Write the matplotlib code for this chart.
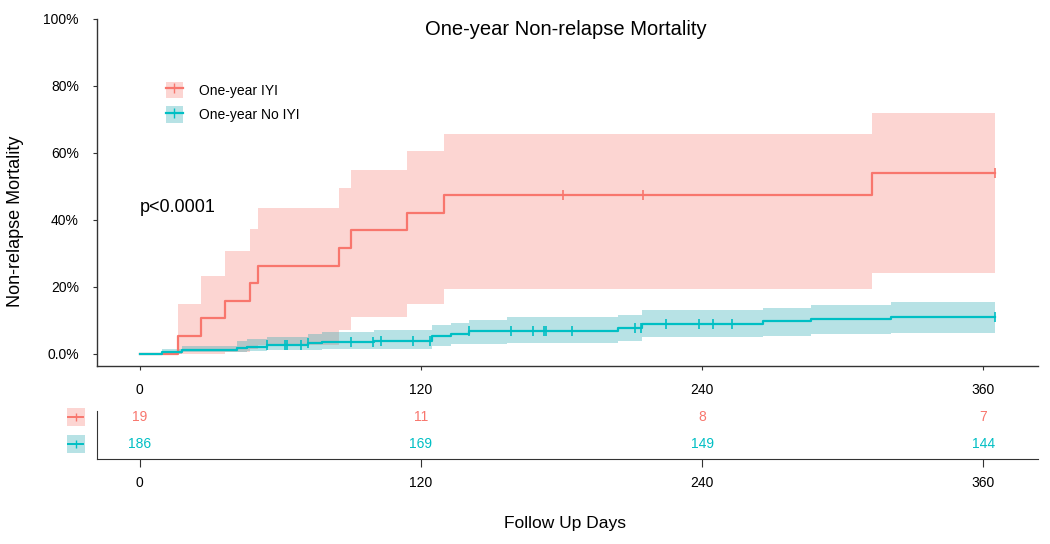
import numpy as np
import matplotlib
matplotlib.use("Agg")
import matplotlib.pyplot as plt
from matplotlib.patches import Patch
from matplotlib.lines import Line2D

plt.rcParams['font.family'] = ['Liberation Sans', 'DejaVu Sans']

# one-year IYI group (cumulative incidence, %)
iyi_days = [0, 16.4, 26.3, 36.2, 47.1, 50.3, 85.2, 90.0, 113.9, 129.8, 312.5]
iyi_val = [0, 5.3, 10.5, 15.8, 21.1, 26.3, 31.6, 36.8, 42.1, 47.4, 54.0]
iyi_lo = [0, 0, 0, 0.5, 1.5, 2.5, 7.0, 10.9, 14.9, 19.3, 24.0]
iyi_up = [0, 14.9, 23.1, 30.6, 37.3, 43.4, 49.4, 54.9, 60.4, 65.6, 71.8]
iyi_cens = [180.6, 214.7, 365]

# one-year no IYI group
no_days = [0, 9.5, 18, 41.5, 45.7, 54.3, 72, 77.7, 100, 124.5, 133, 140.6,
           156.7, 204, 214.4, 265.8, 286.6, 320.7]
no_val = [0, 0.54, 1.1, 1.6, 2.1, 2.7, 3.2, 3.5, 3.9, 5.3, 6.0, 6.8,
          6.9, 7.6, 8.9, 9.6, 10.3, 10.9]
no_lo = [0, 0, 0.4, 0.6, 0.9, 1.1, 1.2, 1.3, 1.3, 2.3, 2.8, 2.9,
         3.2, 3.9, 4.9, 5.3, 5.8, 6.1]
no_up = [0, 1.4, 2.3, 3.7, 4.5, 5.1, 5.8, 6.6, 7.1, 8.7, 9.2, 9.9,
         10.9, 11.6, 12.9, 13.7, 14.4, 15.3]
no_cens = [54.3, 62, 62.8, 69, 72, 90, 99.7, 102.9, 116.7, 123.8, 140.6,
           158.6, 167.8, 172.4, 173.5, 184.6, 211.5, 214, 224.6, 238.5,
           244.5, 252.6, 365]

end_day = 365
risk_times = [0, 120, 240, 360]
risk_iyi = [19, 11, 8, 7]
risk_no = [186, 169, 149, 144]
labels = ['One-year IYI', 'One-year No IYI']
red = '#F8766D'
teal = '#00BFC4'
red_fill = '#F8766D'
teal_fill = '#12A2AC'

fig = plt.figure(figsize=(10.5, 5.44), dpi=100)
ax = fig.add_axes([0.0924, 0.3272, 0.896, 0.638])


def draw(days, val, lo, up, fcol):
    d = np.append(days, end_day)
    v = np.append(val, val[-1])
    ax.fill_between(d, np.append(lo, lo[-1]), np.append(up, up[-1]),
                    step='post', color=fcol, alpha=0.3, lw=0)
    return d, v


d1, v1 = draw(iyi_days, iyi_val, iyi_lo, iyi_up, red_fill)
d2, v2 = draw(no_days, no_val, no_lo, no_up, teal_fill)
for d, v, cens, col in [(d1, v1, iyi_cens, red), (d2, v2, no_cens, teal)]:
    ax.step(d, v, where='post', color=col, lw=1.6)
    idx = np.searchsorted(d, cens, side='right') - 1
    ax.plot(cens, v[idx], ls='none', marker='|', ms=7, mew=1.2, color=col)

ax.set_xlim(-18.25, 383.25)
ax.set_ylim(-3.7, 100)
ax.set_xticks(risk_times)
ax.set_yticks([0, 20, 40, 60, 80, 100])
ax.set_yticklabels(['0.0%', '20%', '40%', '60%', '80%', '100%'])
for s in ['top', 'right']:
    ax.spines[s].set_visible(False)
for s in ['left', 'bottom']:
    ax.spines[s].set_color('#333333')
    ax.spines[s].set_linewidth(1.0)
ax.tick_params(axis='y', length=3, pad=10, labelsize=10, color='#333333')
ax.tick_params(axis='x', length=3, pad=9, labelsize=10, color='#333333')
ax.set_ylabel('Non-relapse Mortality', fontsize=13)
ax.yaxis.set_label_coords(-0.078, 0.418)
fig.text(0.539, 0.945, 'One-year Non-relapse Mortality', fontsize=14.5,
         ha='center', va='center')
ax.text(0, 43.7, 'p<0.0001', fontsize=13, ha='left', va='center')

handles = [(Patch(facecolor=f, alpha=0.3, lw=0),
            Line2D([], [], color=c, lw=1.6, marker='|', ms=7))
           for c, f in [(red, red_fill), (teal, teal_fill)]]
ax.legend(handles, labels, loc='upper left', bbox_to_anchor=(0.073, 0.818),
          frameon=False, fontsize=10, borderpad=0, borderaxespad=0,
          handlelength=1.25, handleheight=1.4, handletextpad=1.15,
          labelspacing=0.6)

# risk table
ax2 = fig.add_axes([0.0924, 0.156, 0.896, 0.088])
ax2.set_xlim(ax.get_xlim())
ax2.set_ylim(0.456, 2.21)
for t, a, b in zip(risk_times, risk_iyi, risk_no):
    ax2.text(t, 2, str(a), color=red, ha='center', va='center', fontsize=10)
    ax2.text(t, 1, str(b), color=teal, ha='center', va='center', fontsize=10)
for yy, c, f in [(2, red, red_fill), (1, teal, teal_fill)]:
    ax2.plot([-27.4], [yy], marker='s', ms=12.5, color=f, alpha=0.3,
             mew=0, clip_on=False)
    ax2.plot([-30.5, -24.3], [yy, yy], color=c, lw=1.4, clip_on=False)
    ax2.plot([-27.4], [yy], marker='|', ms=6, mew=1, color=c, clip_on=False)
ax2.set_xticks(risk_times)
ax2.set_yticks([])
for s in ['top', 'right']:
    ax2.spines[s].set_visible(False)
for s in ['left', 'bottom']:
    ax2.spines[s].set_color('#333333')
ax2.tick_params(axis='x', length=6, pad=6, labelsize=10, color='#333333')

fig.text(0.538, 0.038, 'Follow Up Days', ha='center', va='center', fontsize=12.5)

fig.savefig('out.png', dpi=100)
